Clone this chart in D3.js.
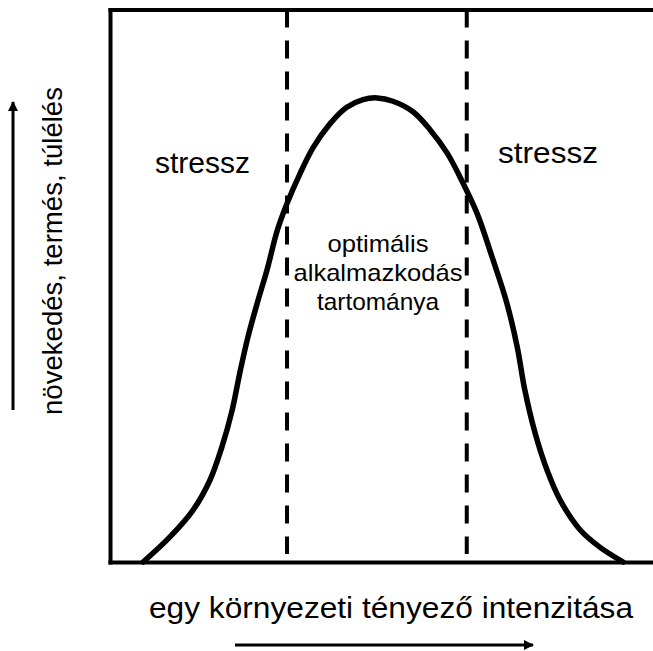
<!DOCTYPE html>
<html>
<head>
<meta charset="utf-8">
<script src="https://cdn.jsdelivr.net/npm/d3@7"></script>
<style>
  html, body { margin: 0; padding: 0; background: #fff; }
  svg { display: block; }
  text { font-family: "Liberation Sans", Arial, Helvetica, sans-serif; fill: #000; }
</style>
</head>
<body>
<script>
// ---- data (environmental factor intensity 0..100, response 0..100) ----
const intensity = [6.1, 11.0, 15.3, 18.4, 20.6, 22.5, 23.9, 25.4, 27.1, 28.9, 30.8, 32.6, 35.0, 37.4, 40.5, 43.6, 46.6, 49.2, 52.1, 55.8, 58.9, 62.1, 65.0, 67.6, 70.5, 73.1, 75.0, 76.4, 78.3, 80.5, 82.9, 86.6, 90.2, 94.5];
const response  = [0.0, 4.5, 9.4, 14.8, 20.8, 27.5, 34.2, 40.7, 46.8, 52.8, 60.0, 64.9, 70.3, 75.0, 79.3, 82.3, 83.7, 84.0, 83.4, 81.5, 78.3, 74.0, 68.6, 63.1, 54.8, 46.8, 38.9, 31.1, 23.3, 16.6, 11.2, 5.8, 2.7, 0.0];
const boundaries = [32.6, 65.7];            // limits of the optimal range
const zoneLabels = ["stressz", "stressz"];
const optimumLabel = ["optimális", "alkalmazkodás", "tartománya"];
const xTitle = "egy környezeti tényező intenzitása";
const yTitle = "növekedés, termés, túlélés";

const W = 653, H = 651;
const svg = d3.select("body").append("svg").attr("width", W).attr("height", H);

const x = d3.scaleLinear().domain([0, 100]).range([110, 653]);
const y = d3.scaleLinear().domain([0, 100]).range([562, 9.5]);

// frame via axes without ticks
const frame = svg.append("g");
frame.append("g").attr("transform", `translate(${x(0)},0)`)
  .call(d3.axisLeft(y).tickValues([]).tickSizeOuter(0));
frame.append("g").attr("transform", `translate(0,${y(0)})`)
  .call(d3.axisBottom(x).tickValues([]).tickSizeOuter(0));
frame.append("g").attr("transform", `translate(0,${y(100)})`)
  .call(d3.axisTop(x).tickValues([]).tickSizeOuter(0));
frame.selectAll(".domain").attr("stroke", "#000").attr("stroke-width", 4).attr("stroke-linecap", "square");

// dashed boundaries
svg.append("g").selectAll("line").data(boundaries).join("line")
  .attr("x1", d => x(d)).attr("x2", d => x(d))
  .attr("y1", y(100)).attr("y2", y(0) - 8)
  .attr("stroke", "#000").attr("stroke-width", 4)
  .attr("stroke-dasharray", "18,13");

// curve
const pts = intensity.map((v, i) => [v, response[i]]);
svg.append("path").datum(pts)
  .attr("fill", "none").attr("stroke", "#000").attr("stroke-width", 5.5)
  .attr("stroke-linejoin", "round").attr("stroke-linecap", "round")
  .attr("d", d3.line().x(d => x(d[0])).y(d => y(d[1])).curve(d3.curveCatmullRom.alpha(0.5)));

// zone labels
svg.append("text").attr("x", 155).attr("y", 173).attr("font-size", 30)
  .attr("textLength", 95).attr("lengthAdjust", "spacingAndGlyphs").text(zoneLabels[0]);
svg.append("text").attr("x", 498).attr("y", 163).attr("font-size", 30)
  .attr("textLength", 100).attr("lengthAdjust", "spacingAndGlyphs").text(zoneLabels[1]);

// optimum label
const optLens = [101, 169, 122];
const optY = [252, 281, 310];
svg.append("g").selectAll("text").data(optimumLabel).join("text")
  .attr("x", (d, i) => 378 - optLens[i] / 2).attr("y", (d, i) => optY[i])
  .attr("font-size", 24)
  .attr("textLength", (d, i) => optLens[i]).attr("lengthAdjust", "spacingAndGlyphs")
  .text(d => d);

// axis titles
svg.append("text").attr("x", 149).attr("y", 618).attr("font-size", 29)
  .attr("textLength", 484).attr("lengthAdjust", "spacingAndGlyphs").text(xTitle);
svg.append("text").attr("transform", "translate(62,415) rotate(-90)")
  .attr("font-size", 27)
  .attr("textLength", 328).attr("lengthAdjust", "spacingAndGlyphs").text(yTitle);

// arrows
const defs = svg.append("defs");
defs.append("marker").attr("id", "ah").attr("viewBox", "0 0 10 10")
  .attr("refX", 9).attr("refY", 5).attr("markerUnits", "userSpaceOnUse")
  .attr("markerWidth", 12).attr("markerHeight", 10).attr("orient", "auto")
  .append("path").attr("d", "M0,0 L10,5 L0,10 Z").attr("fill", "#000");
svg.append("line").attr("x1", 235).attr("x2", 533).attr("y1", 645).attr("y2", 645)
  .attr("stroke", "#000").attr("stroke-width", 3).attr("marker-end", "url(#ah)");
svg.append("line").attr("x1", 13).attr("x2", 13).attr("y1", 410).attr("y2", 102)
  .attr("stroke", "#000").attr("stroke-width", 3).attr("marker-end", "url(#ah)");
</script>
</body>
</html>
